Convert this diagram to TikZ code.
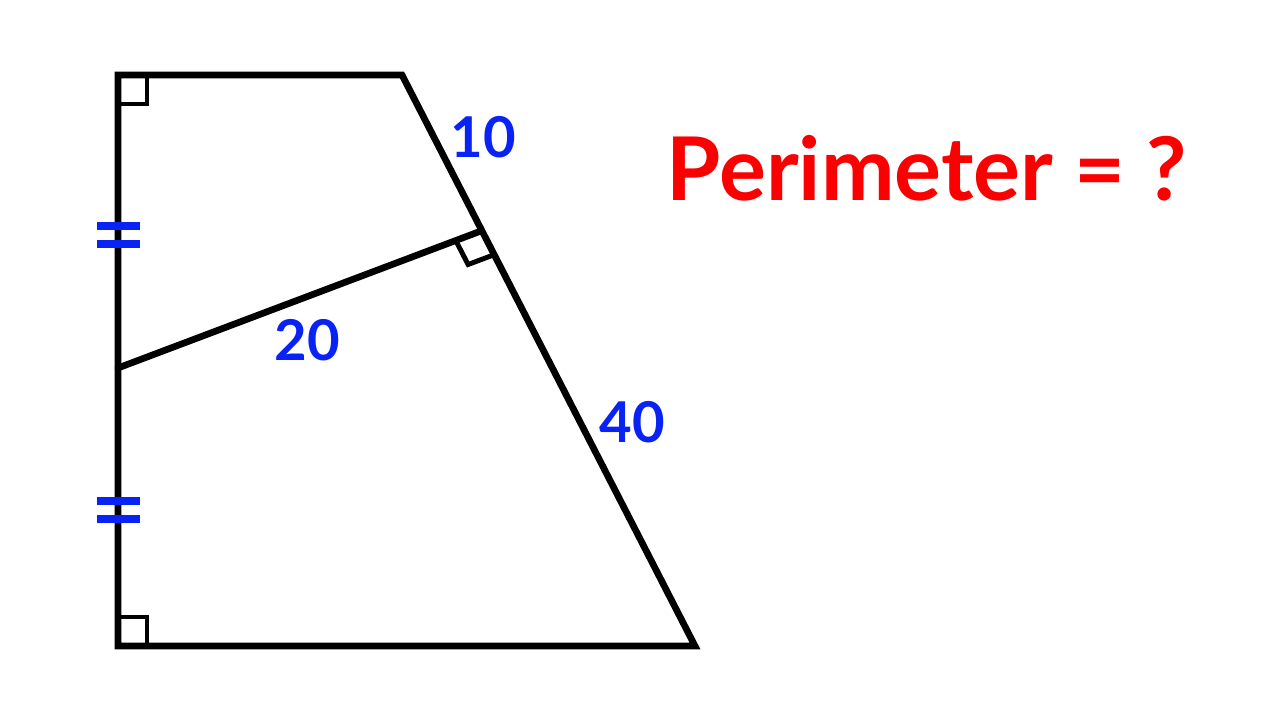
\documentclass[tikz,border=0pt]{standalone}
\usepackage{fontspec}
\setmainfont{Lato}
\usetikzlibrary{calc}
\definecolor{lenblue}{RGB}{10,35,245}
\definecolor{askred}{RGB}{250,0,0}
\begin{document}
\begin{tikzpicture}

      \tikzset{side/.style={line width=1.9pt, line cap=round, line join=miter},
               rtangle/.style={line width=1.4pt},
               eqtick/.style={lenblue, line width=2.3pt},
               len/.style={text=lenblue, font=\fontsize{16}{16}\selectfont\bfseries},
               ask/.style={text=askred, font=\fontsize{25}{25}\selectfont\bfseries}}
      \useasboundingbox (0,0) rectangle (12.8,7.2);
%% Vertices
      	\coordinate (tl) at (1.18,6.45);
      	\coordinate (tr) at (4.02,6.45);
    		\coordinate (br) at (6.95,0.74);
  	    \coordinate (bl) at (1.18,0.74);
     	\coordinate (mid) at (1.18,3.52);
     	\coordinate (foot) at (4.81,4.89);
%Edges
		\draw[side] (tl) -- (tr) -- (br) -- (bl) -- cycle;
		\draw[side] (mid) -- (foot);
%Right angles
		\draw[rtangle] ($(tl)+(0,-0.29)$) -- ++(0.29,0) -- ++(0,0.29);
		\draw[rtangle] ($(bl)+(0,0.29)$) -- ++(0.29,0) -- ++(0,-0.29);
		\draw[rtangle] ($(foot)!0.27cm!(mid)$) -- ($($(foot)!0.27cm!(mid)$)+($(foot)!0.27cm!(br)-(foot)$)$) -- ($(foot)!0.27cm!(br)$);
%Equal marks
		\draw[eqtick] (0.97,4.94) -- (1.40,4.94);
		\draw[eqtick] (0.97,4.76) -- (1.40,4.76);
		\draw[eqtick] (0.97,2.19) -- (1.40,2.19);
		\draw[eqtick] (0.97,2.01) -- (1.40,2.01);
%Labels
		\node[len] (l10) at (4.83,5.83) {10};
		\node[len] (l20) at (3.07,3.80) {20};
		\node[len] (l40) at (6.32,2.98) {40};
		\node[ask] (q) at (9.27,5.52) {Perimeter = ?};

	\end{tikzpicture}
\end{document}
